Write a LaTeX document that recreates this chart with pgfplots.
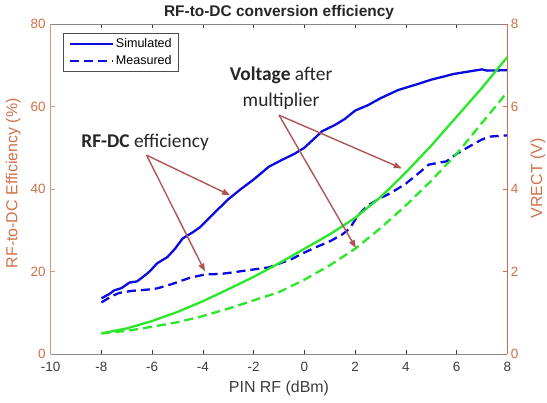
\documentclass[border=0pt]{standalone}
\usepackage{pgfplots}
\pgfplotsset{compat=1.18}
\usepackage{fontspec}
\setmainfont{Liberation Sans}
\newfontfamily\annfont{Carlito}
\usetikzlibrary{arrows.meta}
\definecolor{axorange}{RGB}{208,112,72}
\definecolor{leftline}{RGB}{218,150,120}
\definecolor{rightline}{RGB}{200,110,80}
\definecolor{mblue}{RGB}{10,10,225}
\definecolor{mgreen}{RGB}{40,232,40}
\definecolor{arrowc}{RGB}{175,85,85}
\definecolor{axgray}{RGB}{135,135,135}
\definecolor{labgray}{RGB}{60,60,60}

\pgfplotstableread{
x y
-8 13.5
-7.7 14.5
-7.5 15.4
-7.2 16
-6.9 17.3
-6.6 17.6
-6.4 18.5
-6.1 20
-5.8 22
-5.4 23.5
-5.1 25.5
-4.8 28
-4.4 29.5
-4.1 30.8
-3.5 34.5
-3 37.5
-2.5 40
-2 42.3
-1.4 45.4
-0.9 47
-0.4 48.5
0 50
0.7 54
1.2 55.5
1.6 57
2 59
2.5 60.3
3 62
3.7 64
4.5 65.5
5 66.5
5.9 67.9
6.5 68.5
7 69
7.2 68.7
8 68.8
}\effsim

\pgfplotstableread{
x y
-8 12.5
-7.6 14
-7.3 14.8
-6.8 15.3
-6.2 15.6
-5.8 15.9
-5.2 17
-4.5 18.5
-3.9 19.3
-3.3 19.4
-2.8 19.8
-2 20.5
-1.4 21
-0.5 23
-0.1 24.3
0.5 26
1 27.3
1.5 29
1.8 30.5
2.1 33.5
2.5 36
3 37.8
3.4 39
4 41.3
4.5 43.8
4.9 45.9
5.6 46.7
6 48.5
6.5 50.3
7 52
7.3 52.7
8 53
}\effmeas

\pgfplotstableread{
x y
-8 0.5
-7 0.62
-6 0.8
-5 1.02
-4 1.28
-3 1.57
-2 1.87
-1 2.2
0 2.55
1 2.9
2 3.3
3 3.8
4 4.4
5 5.05
6 5.75
7 6.45
8 7.2
}\vsim

\pgfplotstableread{
x y
-8 0.5
-7 0.56
-6 0.66
-5 0.77
-4 0.92
-3 1.1
-2 1.3
-1 1.5
0 1.8
1 2.15
2 2.55
3 3.05
4 3.6
5 4.2
6 4.85
7 5.6
8 6.35
}\vmeas

\begin{document}
\begin{tikzpicture}
\begin{axis}[
  name=main,
  scale only axis, width=456.6bp, height=330bp,
  xmin=-10, xmax=8, ymin=0, ymax=80,
  xtick={-10,-8,...,8}, ytick={0,20,40,60,80},
  separate axis lines,
  axis x line*=box,
  axis y line*=left,
  tick align=inside,
  major tick length=4bp,
  x axis line style={draw=axgray, line width=0.9bp},
  y axis line style={draw=leftline, line width=0.9bp},
  x tick style={draw=labgray, line width=0.6bp},
  y tick style={draw=leftline, line width=0.8bp},
  /pgf/number format/assume math mode=true,
  tick label style={font=\fontsize{13.5}{16}\selectfont},
  xticklabel style={text=labgray, yshift=-5bp},
  yticklabel style={text=axorange, xshift=-1.5bp},
  legend style={at={(0.0276,0.9718)}, anchor=north west,
    font=\fontsize{12.6}{14}\selectfont, draw=black!70, line width=0.6bp,
    inner xsep=5bp, inner ysep=3bp, row sep=2.5bp},
  legend cell align=left,
  legend image code/.code={\draw[#1] (0bp,0bp) -- (43bp,0bp);},
  clip=false,
]
\addplot[mblue, line width=2.3bp] table[x=x,y=y]{\effsim};
\addlegendentry{Simulated}
\addplot[mblue, line width=2.3bp, dash pattern=on 9bp off 5bp] table[x=x,y=y]{\effmeas};
\addlegendentry{Measured}
\coordinate (top) at (rel axis cs:0.5,1);
\coordinate (bot) at (rel axis cs:0.5,0);
\coordinate (lft) at (rel axis cs:0,0.5);
\coordinate (rgt) at (rel axis cs:1,0.5);
\coordinate (SW) at (rel axis cs:0,0);
\coordinate (NE) at (rel axis cs:1,1);
\coordinate (t1) at (axis cs:-6.28,51.2);
\coordinate (a1) at (axis cs:-6.22,48.2);
\coordinate (p1) at (axis cs:-2.93,38.5);
\coordinate (p2) at (axis cs:-3.92,20);
\coordinate (t2) at (axis cs:-0.92,67.6);
\coordinate (t3) at (axis cs:-0.92,61.3);
\coordinate (a2) at (axis cs:-1.0,57.9);
\coordinate (p3) at (axis cs:3.84,45);
\coordinate (p4) at (axis cs:2.03,25.7);
\end{axis}
\begin{axis}[
  scale only axis, width=456.6bp, height=330bp,
  xmin=-10, xmax=8, ymin=0, ymax=8,
  axis x line=none,
  axis y line*=right,
  ytick={0,2,4,6,8},
  tick align=inside,
  major tick length=4bp,
  y axis line style={draw=rightline, line width=0.9bp},
  y tick style={draw=rightline, line width=0.8bp},
  /pgf/number format/assume math mode=true,
  tick label style={font=\fontsize{13.5}{16}\selectfont},
  yticklabel style={text=axorange},
]
\addplot[mgreen, line width=2.3bp] table[x=x,y=y]{\vsim};
\addplot[mgreen, line width=2.3bp, dash pattern=on 9bp off 5bp] table[x=x,y=y]{\vmeas};
\end{axis}
% annotations
\draw[arrowc, line width=1.4bp, -{Triangle[length=8bp,width=6bp]}] (a1) -- (p1);
\draw[arrowc, line width=1.4bp, -{Triangle[length=8bp,width=6bp]}] (a1) -- (p2);
\draw[arrowc, line width=1.4bp, -{Triangle[length=8bp,width=6bp]}] (a2) -- (p3);
\draw[arrowc, line width=1.4bp, -{Triangle[length=8bp,width=6bp]}] (a2) -- (p4);
\node[font=\annfont\fontsize{19.5}{22}\selectfont, text=black!85, inner sep=0pt] at (t1) {\textbf{RF-DC} efficiency};
\node[font=\annfont\fontsize{19.5}{22}\selectfont, text=black!85, inner sep=0pt] at (t2) {\textbf{Voltage} after};
\node[font=\annfont\fontsize{19.5}{22}\selectfont, text=black!85, inner sep=0pt] at (t3) {multiplier};
% titles and labels
\node[font=\bfseries\fontsize{15.5}{18}\selectfont, text=black!85] at ([yshift=11bp]top) {RF-to-DC conversion efficiency};
\node[font=\fontsize{16}{19}\selectfont, text=labgray] at ([yshift=-34bp]bot) {PIN RF (dBm)};
\node[font=\fontsize{16}{19}\selectfont, text=axorange, rotate=90] at ([xshift=-37.4bp,yshift=5.7bp]lft) {RF-to-DC Efficiency (\%)};
\node[font=\fontsize{16}{19}\selectfont, text=axorange, rotate=90] at ([xshift=30.7bp,yshift=10.7bp]rgt) {VRECT (V)};
\pgfresetboundingbox
\path ([xshift=-50.7bp,yshift=-49bp]SW) rectangle ([xshift=39.7bp,yshift=24bp]NE);
\end{tikzpicture}
\end{document}
